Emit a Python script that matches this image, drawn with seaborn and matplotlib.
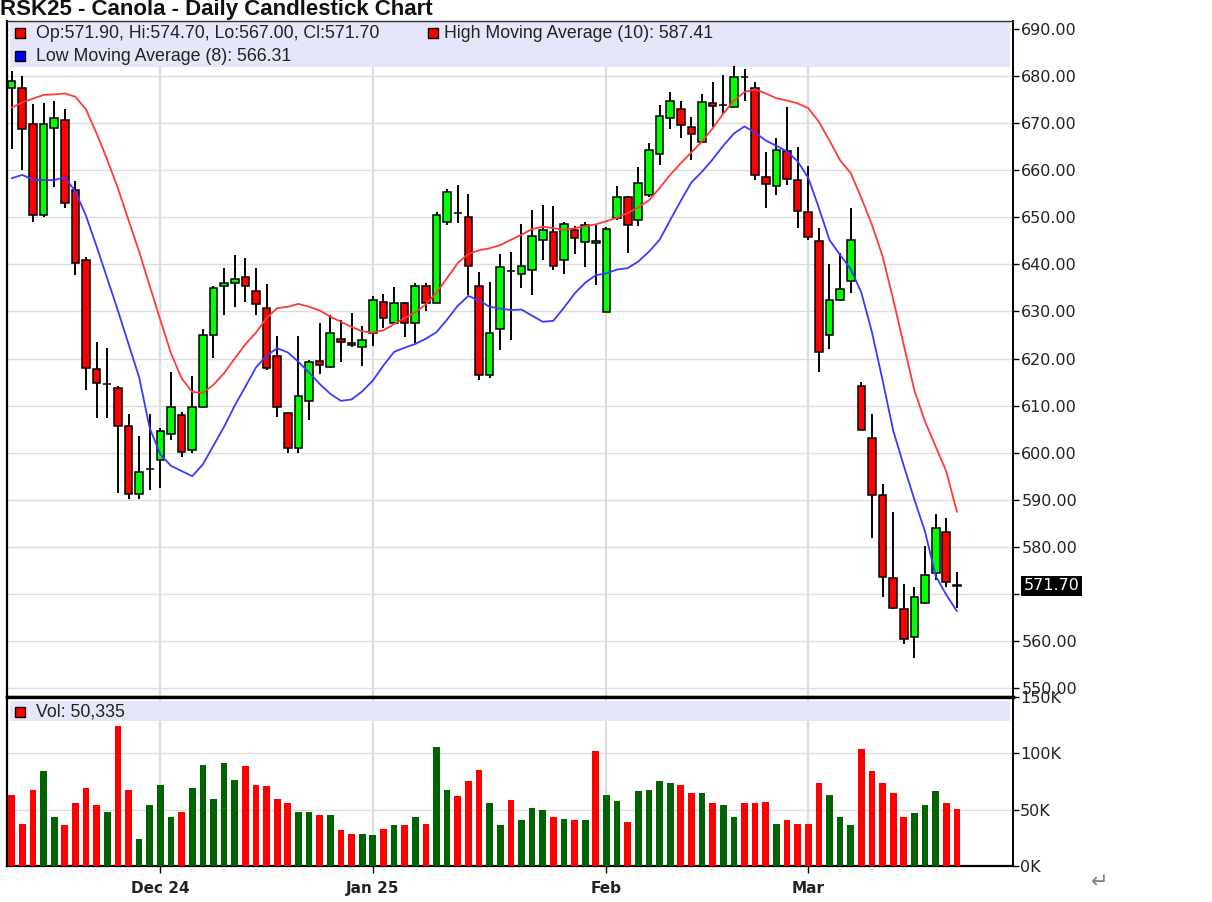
import numpy as np
import pandas as pd
import seaborn as sns
import matplotlib.pyplot as plt
import matplotlib.transforms as mtransforms
from matplotlib.patches import Rectangle

# valores (RSK25 canola, candles diarios)
opens = [677.5, 677.4, 669.8, 650.5, 669.0, 670.7, 655.8, 641.0, 617.7, 614.6,
         613.8, 605.7, 591.2, 596.5, 598.4, 603.9, 608.0, 600.6, 609.8, 625.0,
         635.4, 636.1, 637.4, 634.3, 630.7, 620.5, 608.5, 600.9, 611.0, 619.5,
         618.1, 624.2, 623.4, 622.4, 625.4, 632.1, 627.5, 631.7, 627.5, 635.4,
         631.7, 648.9, 651.0, 650.0, 635.3, 616.5, 626.2, 638.6, 637.9, 638.9,
         645.2, 646.8, 640.9, 647.4, 644.8, 644.5, 629.9, 649.8, 654.4, 649.4,
         654.7, 663.4, 671.0, 672.9, 669.2, 666.1, 674.2, 673.9, 673.5, 679.9,
         677.4, 658.6, 656.6, 664.1, 657.9, 651.2, 645.0, 625.0, 632.5, 636.5,
         614.1, 603.1, 590.9, 573.3, 566.7, 560.8, 568.0, 574.5, 583.1, 571.9]
highs = [681.0, 680.0, 674.0, 674.2, 674.7, 673.0, 657.8, 641.6, 623.6, 622.2,
         614.2, 608.2, 603.5, 608.2, 605.2, 617.2, 608.7, 616.2, 626.2, 635.3,
         639.2, 642.0, 641.3, 639.2, 635.8, 624.8, 608.7, 624.8, 619.7, 627.6,
         629.2, 628.2, 629.7, 626.8, 633.3, 633.6, 635.1, 632.0, 636.1, 636.0,
         651.2, 656.0, 656.9, 654.9, 638.4, 636.3, 642.3, 642.7, 648.6, 651.5,
         652.6, 652.5, 649.1, 648.2, 648.9, 648.4, 648.0, 656.6, 654.6, 660.7,
         665.7, 673.9, 676.7, 674.6, 671.4, 676.2, 678.8, 680.2, 682.1, 681.4,
         678.8, 663.8, 666.8, 673.5, 664.9, 660.9, 647.7, 640.1, 642.5, 651.9,
         615.0, 608.3, 593.4, 587.3, 572.2, 571.5, 580.2, 586.9, 586.2, 574.7]
lows = [664.6, 660.0, 649.0, 650.0, 656.5, 652.0, 637.7, 613.3, 607.3, 607.3,
        591.5, 590.1, 590.1, 592.0, 592.4, 602.7, 599.0, 600.0, 609.5, 620.2,
        629.2, 631.0, 632.1, 629.2, 617.5, 607.6, 600.0, 599.9, 607.0, 616.8,
        618.0, 619.3, 622.4, 618.4, 622.7, 626.4, 627.5, 624.6, 623.2, 630.0,
        631.7, 648.4, 648.7, 633.5, 615.4, 615.8, 621.8, 623.9, 634.9, 633.5,
        640.9, 638.7, 637.9, 642.3, 639.5, 635.6, 629.9, 649.5, 642.5, 648.2,
        654.4, 661.1, 668.7, 666.8, 662.2, 665.7, 669.2, 672.2, 673.5, 674.6,
        657.9, 651.9, 654.7, 656.9, 647.7, 645.2, 617.1, 622.1, 632.2, 633.9,
        604.9, 581.8, 569.4, 566.7, 559.4, 556.3, 567.8, 573.0, 571.4, 567.0]
closes = [679.0, 668.7, 650.5, 669.8, 671.0, 653.0, 640.2, 618.0, 614.7, 614.6,
          605.7, 591.2, 595.8, 596.5, 604.5, 609.6, 600.2, 609.8, 625.0, 635.0,
          636.1, 636.8, 635.4, 631.5, 617.9, 609.6, 601.0, 612.0, 619.2, 618.6,
          625.4, 623.6, 622.8, 623.9, 632.4, 628.7, 631.7, 627.5, 635.4, 631.7,
          650.5, 655.4, 651.0, 639.7, 616.5, 625.4, 639.4, 638.6, 639.6, 646.0,
          647.4, 639.7, 648.6, 645.7, 648.4, 645.0, 647.5, 654.4, 648.4, 657.2,
          664.4, 671.5, 674.8, 669.6, 667.8, 674.4, 673.7, 673.9, 679.9, 679.9,
          659.0, 657.0, 664.3, 658.2, 651.3, 645.8, 621.4, 632.5, 634.7, 645.2,
          604.9, 591.1, 573.5, 566.9, 560.5, 569.3, 574.1, 583.9, 572.6, 571.7]

# medias moveis (maximas 10, minimas 8)
high_ma = [673.3, 674.4, 675.2, 676.0, 676.1, 676.3, 675.6, 672.9, 667.8, 662.2,
           656.2, 649.4, 642.7, 635.4, 628.2, 621.1, 615.8, 612.9, 612.7, 614.4,
           616.9, 620.0, 623.0, 625.5, 628.6, 630.7, 631.0, 631.6, 631.0, 630.2,
           628.9, 627.8, 626.7, 625.8, 625.5, 626.0, 627.3, 628.6, 629.8, 631.5,
           634.0, 637.1, 640.3, 642.2, 643.0, 643.4, 644.1, 645.2, 646.3, 647.5,
           648.0, 647.7, 647.3, 647.7, 648.1, 648.5, 649.2, 649.9, 650.9, 652.1,
           653.6, 656.2, 659.0, 661.5, 663.8, 666.1, 668.9, 672.0, 674.8, 676.6,
           677.2, 676.3, 675.3, 674.8, 674.2, 673.2, 670.3, 666.3, 662.1, 659.4,
           654.1, 648.4, 641.7, 632.6, 622.8, 613.2, 606.6, 601.3, 596.0, 587.41]
low_ma = [658.3, 659.0, 658.0, 657.9, 657.9, 658.5, 655.5, 650.3, 643.8, 637.0,
          630.2, 623.1, 616.0, 605.2, 599.6, 597.2, 596.1, 595.0, 597.5, 601.5,
          605.5, 610.0, 614.0, 618.1, 620.6, 622.2, 621.3, 619.3, 617.0, 614.6,
          612.5, 611.0, 611.3, 613.0, 615.3, 618.5, 621.4, 622.3, 623.1, 624.2,
          625.6, 628.3, 631.2, 633.3, 632.3, 631.0, 630.6, 630.3, 630.4, 629.1,
          627.8, 628.0, 630.8, 633.8, 636.1, 637.7, 638.1, 638.9, 639.2, 640.6,
          642.7, 645.2, 649.4, 653.5, 657.4, 659.7, 662.3, 665.2, 667.8, 669.3,
          668.0, 666.3, 665.2, 664.0, 661.9, 658.4, 652.0, 645.2, 642.0, 639.0,
          634.0, 625.6, 615.4, 604.7, 597.2, 590.0, 583.2, 573.8, 569.8, 566.31]

# volume em milhares e direcao (U = alta, D = baixa)
volume_k = [62.9, 37.7, 67.7, 84.0, 43.6, 36.2, 55.5, 69.1, 54.0, 48.0,
            124.6, 67.7, 23.7, 54.0, 72.1, 43.6, 48.0, 69.1, 89.9, 59.9,
            91.4, 76.6, 88.4, 72.1, 70.6, 59.9, 55.5, 48.0, 48.0, 45.1,
            45.1, 31.8, 28.8, 28.8, 27.3, 33.2, 36.2, 36.2, 43.6, 37.7,
            105.3, 67.7, 61.7, 75.1, 85.5, 55.5, 36.2, 58.8, 40.7, 51.3,
            49.6, 43.6, 42.1, 40.7, 40.7, 102.4, 63.2, 57.3, 39.2, 66.2,
            67.7, 75.1, 73.6, 72.1, 64.7, 64.7, 55.5, 54.0, 43.6, 55.5,
            55.5, 57.0, 37.7, 40.7, 37.7, 37.7, 73.6, 63.2, 43.6, 36.2,
            103.9, 84.0, 73.6, 64.7, 43.6, 46.6, 54.0, 66.2, 55.5, 50.335]
volume_dir = list("DDDUUDDDDU" "DDUUUUDUUU" "UUDDDDDUUD" "UDDUUDUDUD" "UUDDDUUDUU"
                  "UDUDUDUUDU" "UUUDDUDUUD" "DDUDDDDUUU" "DDDDDUUUDD")

month_pos = [14, 34, 56, 75]
month_labels = ['Dec 24', 'Jan 25', 'Feb', 'Mar']
price_ticks = list(range(550, 691, 10))
vol_ticks = [0, 50, 100, 150]
vol_labels = ['0K', '50K', '100K', '150K']

title = 'RSK25 - Canola - Daily Candlestick Chart'
legend_ohlc = 'Op:571.90, Hi:574.70, Lo:567.00, Cl:571.70'
legend_high = 'High Moving Average (10): 587.41'
legend_low = 'Low Moving Average (8): 566.31'
legend_vol = 'Vol: 50,335'
last_price = 571.70

sns.set_theme(style='white')
plt.rcParams['font.family'] = ['DejaVu Sans']

W, H = 1212, 902
fig = plt.figure(figsize=(W / 100, H / 100), dpi=100)
ax = fig.add_axes([7 / W, 1 - 697 / H, 1006 / W, 676 / H])
axv = fig.add_axes([7 / W, 1 - 866 / H, 1006 / W, 169 / H])

x = np.arange(len(opens))
o = np.array(opens)
c = np.array(closes)
xlim = (-0.44, 94.28)

# ---- painel de precos ----
ax.vlines(x, lows, highs, color='black', lw=1.4, zorder=3)
body_col = np.where(c > o, '#00ff00', '#ff0000')
ax.bar(x, np.abs(c - o), bottom=np.minimum(o, c), width=0.72, color=body_col,
       edgecolor='black', linewidth=1.1, zorder=4)
sns.lineplot(x=x, y=high_ma, color='#ff3a3a', lw=1.3, ax=ax, zorder=5)
sns.lineplot(x=x, y=low_ma, color='#3a3aff', lw=1.3, ax=ax, zorder=5)

ax.set_xlim(*xlim)
ax.set_ylim(548.09, 691.7)
ax.set_yticks(price_ticks)
ax.set_yticklabels(['' if t == 570 else f'{t:.2f}' for t in price_ticks])
ax.yaxis.tick_right()
ax.set_xticks(month_pos)
ax.tick_params(axis='x', length=0, labelbottom=False)
ax.tick_params(axis='y', direction='out', length=4, width=1, color='black',
               pad=2, labelsize=11.5, labelcolor='#222222', right=True)
ax.grid(True, color='#dddddd', lw=1)
for gl in ax.get_xgridlines():
    gl.set_linewidth(1.6)
ax.set_axisbelow(True)
ax.set_xlabel('')
ax.set_ylabel('')

# faixa da legenda
ax.add_patch(Rectangle((0.003, 0.932), 0.994, 0.0665, transform=ax.transAxes,
                       facecolor='#e6e6fa', edgecolor='none', zorder=1.5))
leg_font = dict(family='Liberation Sans', fontsize=12.8, color='#222222',
                va='center', transform=ax.transAxes, zorder=7)
for (sx, sy, col, tx, txt) in [(0.0129, 0.9822, '#ff0000', 0.0288, legend_ohlc),
                               (0.4235, 0.9822, '#ff0000', 0.4344, legend_high),
                               (0.0129, 0.9482, '#0000ff', 0.0288, legend_low)]:
    ax.plot([sx], [sy], marker='s', ms=7, mfc=col, mec='black', mew=1,
            transform=ax.transAxes, zorder=7, clip_on=False)
    ax.text(tx, sy, txt, **leg_font)

# preco atual no eixo
blend = mtransforms.blended_transform_factory(ax.transAxes, ax.transData)
ax.text(1.0105, last_price, f'{last_price:.2f}', transform=blend, color='white',
        fontsize=11.5, va='center', ha='left', zorder=9, clip_on=False,
        bbox=dict(facecolor='black', edgecolor='none', pad=1.6))

for side in ['left', 'right', 'top', 'bottom']:
    ax.spines[side].set_visible(True)
    ax.spines[side].set_color('black')
ax.spines['left'].set_linewidth(1.6)
ax.spines['right'].set_linewidth(1.4)
ax.spines['top'].set_linewidth(1.0)
ax.spines['top'].set_color('#333333')
ax.spines['bottom'].set_linewidth(2.4)

# ---- painel de volume ----
vol_df = pd.DataFrame({'idx': x, 'vol': volume_k, 'dir': volume_dir})
sns.barplot(data=vol_df, x='idx', y='vol', hue='dir',
            palette={'U': '#006400', 'D': '#ff0000'}, native_scale=True,
            dodge=False, width=0.63, errorbar=None, legend=False,
            saturation=1, linewidth=0, ax=axv, zorder=3)
axv.set_xlim(*xlim)
axv.set_ylim(0, 150)
axv.set_yticks(vol_ticks)
axv.set_yticklabels(vol_labels)
axv.yaxis.tick_right()
axv.set_xticks(month_pos)
axv.set_xticklabels(month_labels)
axv.tick_params(axis='x', direction='out', length=5, width=1, color='black',
                pad=6, labelsize=11, labelcolor='#222222', bottom=True)
axv.tick_params(axis='y', direction='out', length=4, width=1, color='black',
                pad=1, labelsize=11.5, labelcolor='#222222', right=True)
for lbl in axv.get_xticklabels():
    lbl.set_fontweight('bold')
axv.grid(True, color='#dddddd', lw=1)
for gl in axv.get_xgridlines():
    gl.set_linewidth(1.6)
axv.set_axisbelow(True)
axv.set_xlabel('')
axv.set_ylabel('')

axv.add_patch(Rectangle((0.003, 0.858), 0.994, 0.12, transform=axv.transAxes,
                        facecolor='#e6e6fa', edgecolor='none', zorder=1.5))
axv.plot([0.0134], [0.911], marker='s', ms=7, mfc='#ff0000', mec='black', mew=1,
         transform=axv.transAxes, zorder=7, clip_on=False)
axv.text(0.0288, 0.911, legend_vol, family='Liberation Sans', fontsize=12.8,
         color='#222222', va='center', transform=axv.transAxes, zorder=7)

for side in ['left', 'right', 'top', 'bottom']:
    axv.spines[side].set_visible(True)
    axv.spines[side].set_color('black')
axv.spines['left'].set_linewidth(1.6)
axv.spines['right'].set_linewidth(1.4)
axv.spines['top'].set_linewidth(2.4)
axv.spines['bottom'].set_linewidth(1.6)

# titulo cortado no topo e seta no canto
fig.text(0.0, 1 - 15 / H, title, family='Liberation Sans', fontweight='bold',
         fontsize=16, color='#111111', va='baseline', ha='left')
fig.text(1100 / W, 1 - 882 / H, '\u21b5', fontsize=15, color='#808080',
         ha='center', va='center')

fig.savefig('out.png', dpi=100)
